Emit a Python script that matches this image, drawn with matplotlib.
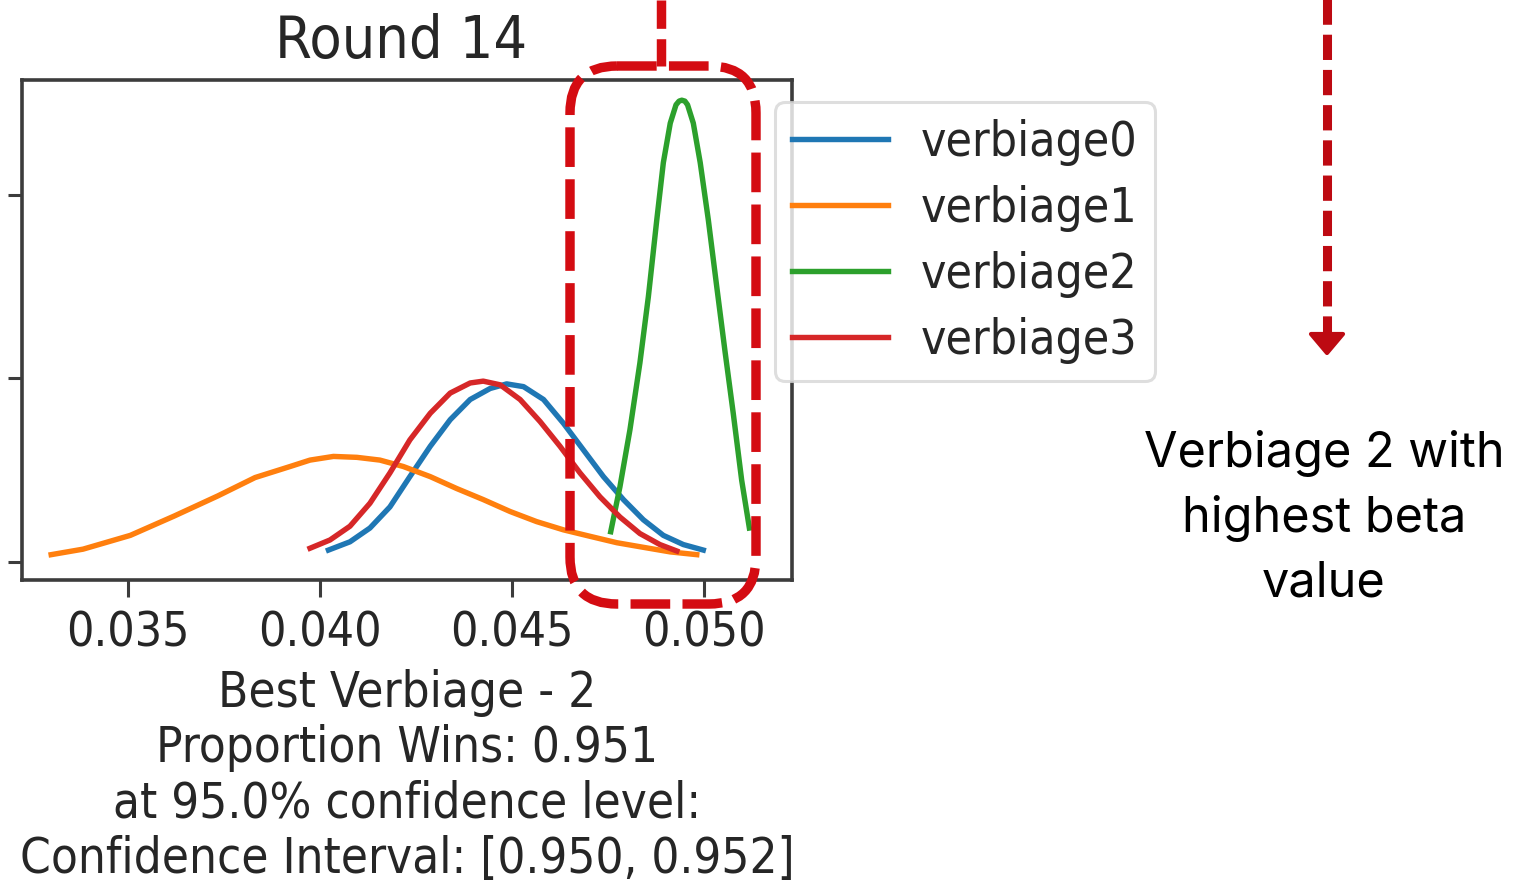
import matplotlib.pyplot as plt
from matplotlib import font_manager
from matplotlib.patches import FancyBboxPatch, Polygon

# beta posteriors (density in the chart's own units)
labels = ['verbiage0', 'verbiage1', 'verbiage2', 'verbiage3']
colors = ['tab:blue', 'tab:orange', 'tab:green', 'tab:red']

v0_x = [0.04022, 0.04078, 0.04130, 0.04182, 0.04234, 0.04287, 0.04339, 0.04391, 0.04443, 0.04486,
        0.04530, 0.04582, 0.04634, 0.04686, 0.04738, 0.04790, 0.04842, 0.04894, 0.04946, 0.04998]
v0_y = [13, 22, 37, 60, 93, 126, 155, 177, 189, 194,
        191, 177, 151, 122, 93, 68, 46, 29, 19, 13]

v1_x = [0.03300, 0.03383, 0.03506, 0.03620, 0.03734, 0.03831, 0.03922, 0.03974, 0.04035, 0.04096,
        0.04156, 0.04217, 0.04287, 0.04356, 0.04425, 0.04495, 0.04564, 0.04634, 0.04703, 0.04773,
        0.04842, 0.04912, 0.04981]
v1_y = [8, 14, 29, 50, 72, 92, 104, 111, 115, 114,
        111, 104, 93, 80, 68, 55, 44, 35, 28, 21,
        16, 11, 8]

v2_x = [0.04757, 0.04781, 0.04807, 0.04833, 0.04855, 0.04877, 0.04894, 0.04912, 0.04927, 0.04935,
        0.04942, 0.04950, 0.04957, 0.04972, 0.04990, 0.05011, 0.05033, 0.05055, 0.05076, 0.05098,
        0.05118]
v2_y = [33, 82, 144, 217, 289, 373, 435, 478, 498, 502,
        503, 502, 498, 478, 435, 373, 300, 228, 162, 89,
        37]

v3_x = [0.03974, 0.04026, 0.04078, 0.04130, 0.04182, 0.04234, 0.04287, 0.04339, 0.04391, 0.04425,
        0.04469, 0.04521, 0.04573, 0.04625, 0.04677, 0.04729, 0.04781, 0.04833, 0.04885, 0.04929]
v3_y = [15, 24, 39, 64, 97, 133, 162, 184, 195, 197,
        193, 177, 153, 126, 97, 71, 49, 31, 19, 12]

x_ticks = [0.035, 0.040, 0.045, 0.050]
y_ticks = [0, 200, 400]

title = 'Round 14'
summary = ('Best Verbiage - 2\nProportion Wins: 0.951\n'
           'at 95.0% confidence level:\nConfidence Interval: [0.950, 0.952]')
note = 'Verbiage 2 with\nhighest beta\nvalue'

# the reference text is a little taller than wide -> condensed DejaVu if it is there
condensed = any(f.name == 'DejaVu Sans' and f.stretch == 'condensed'
                for f in font_manager.fontManager.ttflist)
if condensed:
    plt.rcParams['font.stretch'] = 'condensed'
    fs, fs_lab, fs_title = 34.5, 35.3, 42.5
else:
    fs, fs_lab, fs_title = 31.5, 32, 38.5

W, H = 1517, 888
fig = plt.figure(figsize=(W / 100, H / 100), dpi=100)
ax = fig.add_axes([22 / W, 1 - 580 / H, 770 / W, 500 / H])

series = [(v0_x, v0_y), (v1_x, v1_y), (v2_x, v2_y), (v3_x, v3_y)]
for (xs, ys), c, lab in zip(series, colors, labels):
    ax.plot(xs, ys, color=c, lw=3.9, label=lab)

ax.set_xlim(0.03224, 0.05229)
ax.set_ylim(-19.6, 525)
ax.set_xticks(x_ticks)
ax.set_xticklabels(['%.3f' % t for t in x_ticks])
ax.set_yticks(y_ticks)
ax.set_yticklabels([])
ax.tick_params(axis='x', length=12, width=2.2, pad=9, labelsize=fs,
               color='#3c3c3c', labelcolor='#262626')
ax.tick_params(axis='y', length=10, width=2.2, color='#3c3c3c')
for s in ax.spines.values():
    s.set_linewidth(2.6)
    s.set_color('#3c3c3c')

ax.set_title(title, fontsize=fs_title, pad=16, x=0.492, color='#262626')
ax.set_xlabel(summary, fontsize=fs_lab, labelpad=9, color='#262626')

leg = ax.legend(loc='upper left', bbox_to_anchor=(775 / W, 1 - 102 / H),
                bbox_transform=fig.transFigure, borderaxespad=0, fontsize=fs,
                handlelength=2.0, handletextpad=0.7, labelspacing=0.4,
                borderpad=0.35, framealpha=0.8, edgecolor='#d6d6d6')
leg.get_frame().set_linewidth(2.2)
for t in leg.get_texts():
    t.set_color('#262626')

# annotation layer in pixel coords
ov = fig.add_axes([0, 0, 1, 1], zorder=10)
ov.set_xlim(0, W)
ov.set_ylim(H, 0)
ov.axis('off')

red = '#d40c12'
dark_red = '#bd0a12'
ov.add_patch(FancyBboxPatch((570, 66), 186, 538, boxstyle='round,pad=0,rounding_size=47',
                            fill=False, ec=red, lw=6.8, ls=(0, (4.2, 1.3))))
ov.plot([661, 661], [0, 66], color=red, lw=6.8, ls=(0, (3, 1.1)))
ov.plot([1327, 1327], [-2, 336], color=dark_red, lw=6.5, ls=(0, (2.8, 1.1)))
ov.add_patch(Polygon([[1311, 334], [1343, 334], [1327, 353]], closed=True,
                     fc=dark_red, ec=dark_red, lw=3, joinstyle='round'))

ov.text(1324, 518, note, ha='center', va='center', fontsize=35, family='Inter',
        fontstretch='normal', linespacing=1.5, color='black')

fig.savefig('out.png', dpi=100)
